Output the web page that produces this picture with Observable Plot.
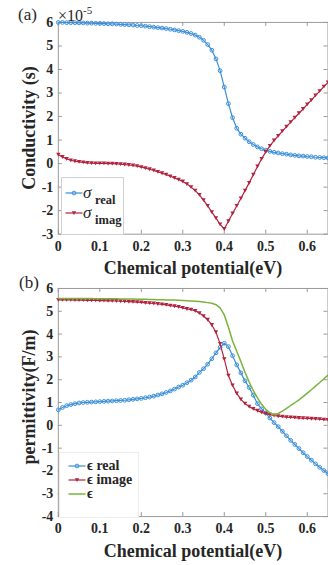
<!DOCTYPE html>
<html><head><meta charset="utf-8">
<script src="https://cdn.jsdelivr.net/npm/d3@7"></script>
<script src="https://cdn.jsdelivr.net/npm/@observablehq/plot@0.6"></script>
<style>
html,body{margin:0;padding:0;background:#fff;}
#wrap{position:relative;width:328px;height:565px;overflow:hidden;font-family:"Liberation Serif","Times New Roman",serif;color:#262626;}
.lbl{position:absolute;white-space:nowrap;line-height:1;}
.b{font-weight:bold;}
.rot{transform:translate(-50%,-50%) rotate(-90deg);}
.ctr{transform:translate(-50%,-50%);}
.leg{position:absolute;background:#fff;}
</style></head><body><div id="wrap"></div>
<script>
// ---- data ----
const mu = [0,0.01,0.02,0.03,0.04,0.05,0.06,0.07,0.08,0.09,
  0.10,0.11,0.12,0.13,0.14,0.15,0.16,0.17,0.18,0.19,
  0.20,0.21,0.22,0.23,0.24,0.25,0.26,0.27,0.28,0.29,
  0.30,0.31,0.32,0.33,0.34,0.35,0.36,0.37,0.38,0.39,
  0.40,0.41,0.42,0.43,0.44,0.45,0.46,0.47,0.48,0.49,
  0.50,0.51,0.52,0.53,0.54,0.55,0.56,0.57,0.58,0.59,
  0.60,0.61,0.62,0.63,0.64,0.65];
// conductivity (x1e-5 S)
const sigmaReal = [6.00,6.00,5.99,5.99,5.99,5.98,5.98,5.97,5.97,5.96,
  5.96,5.95,5.94,5.94,5.93,5.92,5.91,5.90,5.89,5.87,
  5.86,5.84,5.82,5.80,5.78,5.76,5.74,5.71,5.68,5.65,
  5.62,5.58,5.53,5.46,5.37,5.24,5.06,4.82,4.45,3.95,
  3.25,2.55,1.95,1.50,1.25,1.08,0.93,0.81,0.71,0.63,
  0.57,0.52,0.48,0.45,0.42,0.40,0.37,0.35,0.33,0.32,
  0.30,0.29,0.27,0.26,0.25,0.24];
const sigmaImag = [0.38,0.28,0.20,0.14,0.10,0.07,0.05,0.03,0.02,0.01,
  0.01,0.01,0.00,0.00,-0.01,-0.02,-0.04,-0.06,-0.08,-0.11,
  -0.15,-0.19,-0.24,-0.29,-0.35,-0.41,-0.47,-0.54,-0.61,-0.68,
  -0.76,-0.87,-1.00,-1.15,-1.33,-1.55,-1.80,-2.06,-2.32,-2.58,
  -2.78,-2.45,-2.12,-1.80,-1.48,-1.15,-0.82,-0.47,-0.12,0.20,
  0.50,0.75,0.98,1.18,1.38,1.57,1.76,1.95,2.14,2.32,
  2.52,2.70,2.90,3.08,3.27,3.45];
// permittivity (F/m)
const epsReal = [0.68,0.78,0.86,0.91,0.95,0.98,1.00,1.01,1.02,1.03,
  1.04,1.05,1.06,1.07,1.08,1.09,1.10,1.12,1.14,1.16,
  1.18,1.21,1.24,1.28,1.33,1.38,1.44,1.51,1.59,1.68,
  1.76,1.87,1.98,2.12,2.32,2.48,2.68,2.92,3.18,3.42,
  3.60,3.45,3.05,2.65,2.30,1.95,1.66,1.32,0.95,0.72,
  0.54,0.32,0.12,-0.06,-0.26,-0.46,-0.66,-0.84,-1.02,-1.20,
  -1.37,-1.53,-1.69,-1.84,-1.98,-2.12];
const epsImag = [5.50,5.50,5.50,5.50,5.49,5.49,5.49,5.48,5.48,5.48,
  5.47,5.47,5.46,5.46,5.45,5.44,5.43,5.42,5.41,5.40,
  5.39,5.37,5.36,5.34,5.32,5.30,5.28,5.25,5.22,5.19,
  5.15,5.10,5.07,5.02,4.92,4.79,4.63,4.40,4.08,3.57,
  2.90,2.18,1.75,1.40,1.14,0.95,0.82,0.72,0.64,0.57,
  0.51,0.47,0.43,0.40,0.38,0.36,0.35,0.34,0.32,0.31,
  0.30,0.29,0.28,0.27,0.25,0.24];
const epsTotal = [5.56,5.56,5.56,5.56,5.56,5.56,5.56,5.56,5.56,5.55,
  5.55,5.55,5.55,5.55,5.55,5.54,5.54,5.54,5.54,5.53,
  5.53,5.53,5.52,5.52,5.51,5.51,5.50,5.50,5.49,5.48,
  5.47,5.46,5.45,5.44,5.43,5.41,5.38,5.35,5.29,5.15,
  4.84,4.30,3.70,3.25,2.80,2.33,1.90,1.52,1.20,0.92,
  0.70,0.55,0.46,0.52,0.62,0.74,0.87,0.99,1.12,1.26,
  1.41,1.56,1.72,1.88,2.04,2.20];
const xTicks = [0,0.1,0.2,0.3,0.4,0.5,0.6];
const yTicksA = [-3,-2,-1,0,1,2,3,4,5,6];
const yTicksB = [-4,-3,-2,-1,0,1,2,3,4,5,6];
const legendA = ["real","imag"];
const legendB = ["\u03F5 real","\u03F5 image","\u03F5"];

// ---- styles ----
const BLUE = "#3a8fd8", RED = "#b3233f", GREEN = "#78b43a", AX = "#9a9a9a";
const FONT = '"Liberation Serif","Times New Roman",serif';
const triDown = {draw(ctx, size){ const s = Math.sqrt(size)*1.25, h = s*0.87;
  ctx.moveTo(-s/2,-h/2); ctx.lineTo(s/2,-h/2); ctx.lineTo(0,h/2); ctx.closePath(); }};

const rowsA = mu.map((m,i)=>({mu:m, re:sigmaReal[i], im:sigmaImag[i]}));
const rowsB = mu.map((m,i)=>({mu:m, re:epsReal[i], im:epsImag[i], tot:epsTotal[i]}));

function frameMarks(yTicks, innerH, innerW){
  return [
    Plot.frame({stroke: AX, strokeWidth: 1}),
    Plot.tickX(xTicks, {x: d=>d, stroke: AX, insetTop: innerH-4}),
    Plot.tickX(xTicks, {x: d=>d, stroke: AX, insetBottom: innerH-4}),
    Plot.tickY(yTicks, {y: d=>d, stroke: AX, insetRight: innerW-4}),
    Plot.tickY(yTicks, {y: d=>d, stroke: AX, insetLeft: innerW-4}),
    Plot.axisX({ticks: xTicks, tickSize: 0, tickPadding: 7, tickFormat: d=>String(d), label: null, fontSize: 14, fontWeight: "bold", fill: "#262626"}),
    Plot.axisY({ticks: yTicks, tickSize: 0, tickPadding: 5, tickFormat: d=>String(d), label: null, fontSize: 14, fontWeight: "bold", fill: "#262626"})
  ];
}

const W = 329, ML = 58, MR = 0.5;
const plotA = Plot.plot({
  width: W, height: 280, marginLeft: ML, marginRight: MR, marginTop: 22, marginBottom: 45.6,
  x: {domain: [0, 0.65]}, y: {domain: [-3, 6]},
  style: {position:"absolute", left:"0px", top:"0px", overflow:"visible", fontFamily: FONT, fontSize:"14px", background:"transparent"},
  marks: [
    ...frameMarks(yTicksA, 280-22-45.6, W-ML-MR),
    Plot.line(rowsA, {x:"mu", y:"re", stroke: BLUE, strokeWidth: 1.2}),
    Plot.dot(rowsA, {x:"mu", y:"re", stroke: BLUE, r: 1.9, strokeWidth: 1}),
    Plot.line(rowsA, {x:"mu", y:"im", stroke: RED, strokeWidth: 1.2}),
    Plot.dot(rowsA, {x:"mu", y:"im", fill: RED, symbol: triDown, r: 2})
  ]
});
const plotB = Plot.plot({
  width: W, height: 285, marginLeft: ML, marginRight: MR, marginTop: 8, marginBottom: 48.2,
  x: {domain: [0, 0.65]}, y: {domain: [-4, 6]},
  style: {position:"absolute", left:"0px", top:"280px", overflow:"visible", fontFamily: FONT, fontSize:"14px", background:"transparent"},
  marks: [
    ...frameMarks(yTicksB, 285-8-48.2, W-ML-MR),
    Plot.line(rowsB, {x:"mu", y:"re", stroke: BLUE, strokeWidth: 1.2}),
    Plot.dot(rowsB, {x:"mu", y:"re", stroke: BLUE, r: 1.9, strokeWidth: 1}),
    Plot.line(rowsB, {x:"mu", y:"im", stroke: RED, strokeWidth: 1.2}),
    Plot.dot(rowsB, {x:"mu", y:"im", fill: RED, symbol: triDown, r: 2}),
    Plot.line(rowsB, {x:"mu", y:"tot", stroke: GREEN, strokeWidth: 1.5})
  ]
});
const wrap = document.getElementById("wrap");
wrap.appendChild(plotA);
wrap.appendChild(plotB);

function lbl(html, left, top, cls, style){
  const d = document.createElement("div");
  d.className = "lbl " + (cls||"");
  d.innerHTML = html;
  d.style.left = left + "px"; d.style.top = top + "px";
  if (style) Object.assign(d.style, style);
  wrap.appendChild(d);
  return d;
}
// panel labels & titles
lbl("(a)", 18, 6, "", {fontSize:"17px"});
lbl("\u00D710<sup style='font-size:11px;vertical-align:7px'>-5</sup>", 58, 5, "", {fontSize:"16px"});
lbl("(b)", 19, 274, "", {fontSize:"17px"});
lbl("Conductivity (s)", 29, 128, "b rot", {fontSize:"18px"});
lbl("permittivity(F/m)", 29, 397, "b rot", {fontSize:"18px"});
lbl("Chemical potential(eV)", 193, 268, "b ctr", {fontSize:"18px"});
lbl("Chemical potential(eV)", 193, 551, "b ctr", {fontSize:"18px"});

// legends
function swatch(left, top, color, kind){
  const ns = "http://www.w3.org/2000/svg";
  const s = document.createElementNS(ns, "svg");
  s.setAttribute("width", 18); s.setAttribute("height", 8);
  s.style.position = "absolute"; s.style.left = left + "px"; s.style.top = (top-4) + "px";
  const l = document.createElementNS(ns, "line");
  l.setAttribute("x1", 0.5); l.setAttribute("x2", 17.5); l.setAttribute("y1", 4); l.setAttribute("y2", 4);
  l.setAttribute("stroke", color); l.setAttribute("stroke-width", kind==="none"?1.5:1.2);
  s.appendChild(l);
  if (kind === "circle") {
    const c = document.createElementNS(ns, "circle");
    c.setAttribute("cx", 9); c.setAttribute("cy", 4); c.setAttribute("r", 1.9);
    c.setAttribute("fill", "none"); c.setAttribute("stroke", color);
    s.appendChild(c);
  } else if (kind === "tri") {
    const p = document.createElementNS(ns, "path");
    p.setAttribute("d", "M6.8,2.3L11.2,2.3L9,6Z"); p.setAttribute("fill", color);
    s.appendChild(p);
  }
  wrap.appendChild(s);
}
const boxA = document.createElement("div");
boxA.className = "leg";
Object.assign(boxA.style, {left:"61px", top:"177px", width:"61px", height:"56px", border:"1px solid #d0d0d0"});
wrap.appendChild(boxA);
swatch(65, 193, BLUE, "circle");
swatch(65, 213, RED, "tri");
lbl("\u03C3", 83, 184, "", {fontSize:"17px", fontStyle:"italic"});
lbl(legendA[0], 95, 194, "b", {fontSize:"12.5px"});
lbl("\u03C3", 83, 204, "", {fontSize:"17px", fontStyle:"italic"});
lbl(legendA[1], 95, 214, "b", {fontSize:"12.5px"});

const boxB = document.createElement("div");
boxB.className = "leg";
Object.assign(boxB.style, {left:"59px", top:"452px", width:"78px", height:"64px", border:"1px solid #ececec"});
wrap.appendChild(boxB);
swatch(68, 465.5, BLUE, "circle");
swatch(68, 479.5, RED, "tri");
swatch(68, 493.5, GREEN, "none");
lbl(legendB[0], 87, 458.5, "b", {fontSize:"14px"});
lbl(legendB[1], 87, 472.5, "b", {fontSize:"14px"});
lbl(legendB[2], 87, 486.5, "b", {fontSize:"14px"});
</script></body></html>
